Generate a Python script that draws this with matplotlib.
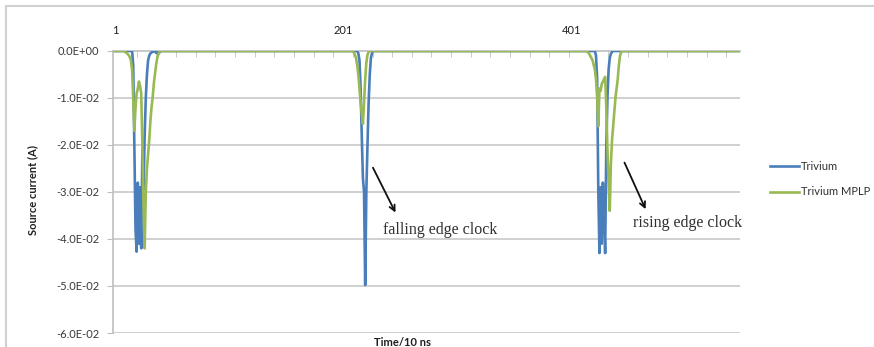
import numpy as np
import matplotlib
matplotlib.use('Agg')
import matplotlib.pyplot as plt
from matplotlib.lines import Line2D

# number of samples (Time/10 ns), categories 1..548
n_points = 548

# Trivium: baseline 0, three current spikes (start index, values)
trivium_spike1_start = 16
trivium_spike1 = [0, -0.003, -0.02, -0.038, -0.0427, -0.028, -0.041, -0.029, -0.042,
                  -0.021, -0.030, -0.018, -0.010, -0.005, -0.002, -0.001, -0.0005,
                  -0.0003, -0.0002, -0.0001, 0, -0.0004, -0.0002, -0.0006, -0.0003, 0]
trivium_spike2_start = 213
trivium_spike2 = [0, -0.0005, -0.002, -0.008, -0.018, -0.027, -0.030, -0.0498, -0.030,
                  -0.020, -0.011, -0.005, -0.0015, -0.0004, 0]
trivium_spike3_start = 421
trivium_spike3 = [0, -0.001, -0.006, -0.030, -0.043, -0.029, -0.041, -0.028, -0.035,
                  -0.043, -0.020, -0.010, -0.004, -0.0015, -0.0006, -0.0002, 0]

# Trivium MPLP
mplp_spike1_start = 9
mplp_spike1 = [0, -0.0002, -0.0004, -0.0006, -0.0009, -0.0013, -0.002, -0.004, -0.010,
               -0.017, -0.012, -0.009, -0.008, -0.0065, -0.0075, -0.009, -0.020, -0.033,
               -0.042, -0.030, -0.025, -0.022, -0.019, -0.015, -0.012, -0.010, -0.007,
               -0.005, -0.003, -0.0015, -0.0006, -0.0002, 0]
mplp_spike2_start = 209
mplp_spike2 = [0, -0.0003, -0.0008, -0.0015, -0.003, -0.005, -0.008, -0.011, -0.0135,
               -0.0155, -0.011, -0.006, -0.0025, -0.0008, -0.0002, 0]
mplp_spike3_start = 414
mplp_spike3 = [0, -0.0003, -0.0006, -0.001, -0.0015, -0.002, -0.003, -0.004, -0.006,
               -0.010, -0.016, -0.008, -0.0085, -0.007, -0.0065, -0.006, -0.0055, -0.012,
               -0.021, -0.028, -0.034, -0.024, -0.019, -0.016, -0.013, -0.010, -0.008,
               -0.006, -0.003, -0.001, -0.0003, 0]

x_labels = ['1', '201', '401']
y_ticks = [0.0, -0.01, -0.02, -0.03, -0.04, -0.05, -0.06]
y_labels = ['0.0E+00', '-1.0E-02', '-2.0E-02', '-3.0E-02', '-4.0E-02', '-5.0E-02', '-6.0E-02']


def build_series(spikes):
    s = np.zeros(n_points)
    for start, vals in spikes:
        s[start - 1:start - 1 + len(vals)] = vals
    return s


idx = np.arange(1, n_points + 1)
trivium = build_series([(trivium_spike1_start, trivium_spike1),
                        (trivium_spike2_start, trivium_spike2),
                        (trivium_spike3_start, trivium_spike3)])
mplp = build_series([(mplp_spike1_start, mplp_spike1),
                     (mplp_spike2_start, mplp_spike2),
                     (mplp_spike3_start, mplp_spike3)])

blue = '#4A7EBB'
green = '#98B954'
grid_col = '#C8C8C8'
txt_col = '#383838'
font = 'Lato'

fig = plt.figure(figsize=(8.74, 3.47), dpi=100)
ax = fig.add_axes([113 / 874, 1 - 333 / 347, (740 - 113) / 874, (333 - 51) / 347])

ax.plot(idx, trivium, color=blue, lw=1.9, label='Trivium', zorder=3)
ax.plot(idx, mplp, color=green, lw=1.9, label='Trivium MPLP', zorder=4)

ax.set_xlim(-0.7, 548)
ax.set_ylim(-0.06, 0)

# gridlines
for yv in y_ticks[1:]:
    ax.axhline(yv, color=grid_col, lw=1.2, zorder=1)

for sp in ['right', 'bottom']:
    ax.spines[sp].set_visible(False)
ax.spines['left'].set_color('#BFBFBF')
ax.spines['left'].set_linewidth(1.2)
ax.spines['top'].set_color('#BFBFBF')
ax.spines['top'].set_linewidth(1.2)

ax.set_yticks(y_ticks)
ax.set_yticklabels(y_labels, fontsize=8, color=txt_col, family=font)
ax.tick_params(axis='y', length=4, color='#BFBFBF', pad=6)

ax.xaxis.tick_top()
ax.set_xticks([1, 201, 401])
ax.set_xticklabels(x_labels, fontsize=8, color='#202020', family=font)
ax.set_xticks(np.arange(20, 548, 17.2), minor=True)
ax.tick_params(axis='x', which='major', length=0, pad=11)
ax.tick_params(axis='x', which='minor', length=4, direction='in', color='#BFBFBF')

fig.text(33 / 874, 1 - 190 / 347, 'Source current (A)', rotation=90, ha='center', va='center',
         fontsize=8, fontweight='bold', color='#202020', family=font)
fig.text(403 / 874, 1 - 343 / 347, 'Time/10 ns', ha='center', va='center',
         fontsize=8, fontweight='bold', color='#202020', family=font)

# annotations
ax.annotate('', xy=(247.6, -0.0349), xytext=(225.7, -0.0243),
            arrowprops=dict(arrowstyle='->', color='#101010', lw=1.3))
ax.text(235.6, -0.0381, 'falling edge clock', fontsize=11.5, color='#303030',
        family='Liberation Serif', va='center', ha='left')
ax.annotate('', xy=(466.4, -0.0342), xytext=(445.9, -0.0232),
            arrowprops=dict(arrowstyle='->', color='#101010', lw=1.3))
ax.text(454.4, -0.0365, 'rising edge clock', fontsize=11.5, color='#303030',
        family='Liberation Serif', va='center', ha='left')

handles = [Line2D([], [], color=blue, lw=1.9), Line2D([], [], color=green, lw=1.9)]
fig.legend(handles, ['Trivium', 'Trivium MPLP'], loc='upper left',
           bbox_to_anchor=(760 / 874, 1 - 151 / 347), frameon=False,
           prop={'family': font, 'size': 8}, handlelength=2.6, handletextpad=0.2,
           labelspacing=1.3, labelcolor='#303030')

# chart area border (cropped on right/bottom)
fig.add_artist(Line2D([6 / 874, 1], [1 - 6 / 347, 1 - 6 / 347], color='#D0D0D0', lw=1.5))
fig.add_artist(Line2D([6 / 874, 6 / 874], [0, 1 - 6 / 347], color='#D0D0D0', lw=1.5))

fig.savefig('out.png', dpi=100)
